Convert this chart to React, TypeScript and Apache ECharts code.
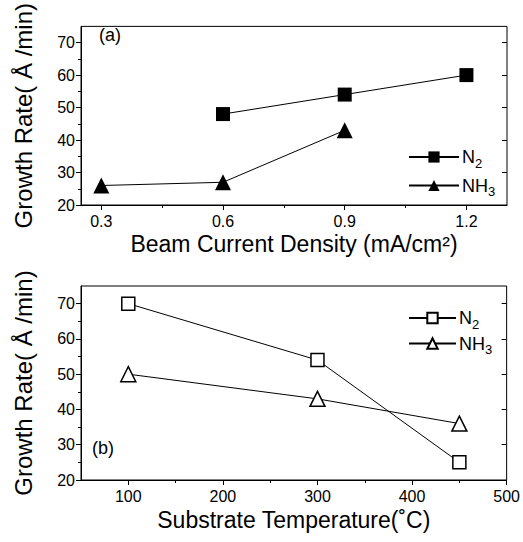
import React, { useEffect, useRef } from "react";
import * as echarts from "echarts";

const beamCurrent = [0.3, 0.6, 0.9, 1.2];
const beamN2 = [null, 48, 54, 60];
const beamNH3 = [26, 27, 43, null];
const beamTicks = [0.3, 0.6, 0.9, 1.2];
const beamMinor = [0.45, 0.75, 1.05];

const temperature = [100, 300, 450];
const tempN2 = [70, 54, 25];
const tempNH3 = [50, 43, 36];
const tempTicks = [100, 200, 300, 400, 500];
const tempMinor = [150, 250, 350, 450];

const rateTicks = [20, 30, 40, 50, 60, 70];
const rateMinor = [25, 35, 45, 55, 65];

const FONT = "Liberation Sans";

export default function App() {
  const ref = useRef<HTMLDivElement>(null);
  useEffect(() => {
    const chart = echarts.init(ref.current!, null, { renderer: "svg" });
    const pair = (xs: number[], ys: (number | null)[]) =>
      xs.map((x, i) => [x, ys[i]]).filter((p) => p[1] !== null);

    const yBase = (gi: number) => ({
      type: "value",
      gridIndex: gi,
      min: 20,
      max: 75,
      splitLine: { show: false },
      axisLine: { show: true, lineStyle: { color: "#000", width: 1 } },
      axisTick: { show: true, length: 5, inside: false, customValues: rateTicks, lineStyle: { color: "#000" } },
      axisLabel: { customValues: rateTicks, color: "#000", fontFamily: FONT, fontSize: 16, margin: 6 },
      name: "Growth Rate( Å /min)",
      nameLocation: "middle",
      nameGap: 46,
      nameTextStyle: { color: "#000", fontFamily: FONT, fontSize: 24 },
    });
    const yMinor = (gi: number) => ({
      type: "value",
      gridIndex: gi,
      min: 20,
      max: 75,
      position: "left",
      splitLine: { show: false },
      axisLine: { show: false },
      axisTick: { show: true, length: 3, customValues: rateMinor, lineStyle: { color: "#000" } },
      axisLabel: { show: false },
    });
    const yRight = (gi: number) => ({
      type: "value",
      gridIndex: gi,
      min: 20,
      max: 75,
      position: "right",
      splitLine: { show: false },
      axisLine: { show: false },
      axisTick: { show: true, inside: true, length: 5, customValues: rateTicks.slice(1), lineStyle: { color: "#000" } },
      axisLabel: { show: false },
    });

    const xMain = (gi: number, min: number, max: number, ticks: number[], name: string, fmt: (v: number) => string, gap: number) => ({
      type: "value",
      gridIndex: gi,
      min,
      max,
      splitLine: { show: false },
      axisLine: { show: true, lineStyle: { color: "#000", width: 1 } },
      axisTick: { show: true, length: 5, customValues: ticks, lineStyle: { color: "#000" } },
      axisLabel: { customValues: ticks, color: "#000", fontFamily: FONT, fontSize: 16, margin: 8, formatter: fmt },
      name,
      nameLocation: "middle",
      nameGap: gap,
      nameTextStyle: { color: "#000", fontFamily: FONT, fontSize: 23 },
    });
    const xMinor = (gi: number, min: number, max: number, ticks: number[]) => ({
      type: "value",
      gridIndex: gi,
      min,
      max,
      position: "bottom",
      splitLine: { show: false },
      axisLine: { show: false },
      axisTick: { show: true, length: 3, customValues: ticks, lineStyle: { color: "#000" } },
      axisLabel: { show: false },
    });

    const lineStyle = { color: "#000", width: 1 };
    const sub = (name: string) => (name.startsWith("NH3") ? "NH{s|3}" : "N{s|2}");
    const legendText = {
      color: "#000",
      fontFamily: FONT,
      fontSize: 18,
      padding: [0, 0, 0, -2],
      rich: { s: { fontSize: 13, fontFamily: FONT, color: "#000", padding: [12, 0, 0, 0] } },
    };

    chart.setOption({
      animation: false,
      backgroundColor: "#fff",
      grid: [
        { left: 81, top: 13, right: 16, height: 192, show: true, borderColor: "#000", borderWidth: 1, containLabel: false },
        { left: 81, top: 286, right: 16, height: 194, show: true, borderColor: "#000", borderWidth: 1, containLabel: false },
      ],
      xAxis: [
        xMain(0, 0.25, 1.3, beamTicks, "Beam Current Density (mA/cm²)", (v: number) => v.toFixed(1), 27),
        xMinor(0, 0.25, 1.3, beamMinor),
        xMain(1, 50, 500, tempTicks, "Substrate Temperature(˚C)", (v: number) => String(v), 28),
        xMinor(1, 50, 500, tempMinor),
      ],
      yAxis: [yBase(0), yMinor(0), yRight(0), yBase(1), yMinor(1), yRight(1)],
      legend: [
        {
          data: ["N2a", "NH3a"],
          orient: "vertical",
          left: 403,
          top: 143,
          itemWidth: 50,
          itemHeight: 14,
          itemGap: 7,
          formatter: sub,
          textStyle: legendText,
          inactiveColor: "#000",
        },
        {
          data: ["N2b", "NH3b"],
          orient: "vertical",
          left: 403,
          top: 304,
          itemWidth: 47,
          itemHeight: 13,
          itemGap: 4,
          formatter: sub,
          textStyle: legendText,
          inactiveColor: "#000",
        },
      ],
      graphic: [
        { type: "text", left: 99, top: 26, style: { text: "(a)", fontFamily: FONT, fontSize: 18, fill: "#000" } },
        { type: "text", left: 92, top: 439, style: { text: "(b)", fontFamily: FONT, fontSize: 18, fill: "#000" } },
      ],
      series: [
        {
          name: "N2a",
          type: "line",
          xAxisIndex: 0,
          yAxisIndex: 0,
          data: pair(beamCurrent, beamN2),
          symbol: "rect",
          symbolSize: 14,
          itemStyle: { color: "#000" },
          lineStyle,
        },
        {
          name: "NH3a",
          type: "line",
          xAxisIndex: 0,
          yAxisIndex: 0,
          data: pair(beamCurrent, beamNH3),
          symbol: "triangle",
          symbolSize: 16,
          itemStyle: { color: "#000" },
          lineStyle,
        },
        {
          name: "N2b",
          type: "line",
          xAxisIndex: 2,
          yAxisIndex: 3,
          data: pair(temperature, tempN2),
          symbol: "rect",
          symbolSize: 13,
          itemStyle: { color: "#fff", borderColor: "#000", borderWidth: 1.5 },
          lineStyle,
        },
        {
          name: "NH3b",
          type: "line",
          xAxisIndex: 2,
          yAxisIndex: 3,
          data: pair(temperature, tempNH3),
          symbol: "triangle",
          symbolSize: 15,
          itemStyle: { color: "#fff", borderColor: "#000", borderWidth: 1.5 },
          lineStyle,
        },
      ],
    });
    return () => chart.dispose();
  }, []);
  return <div ref={ref} style={{ position: "fixed", left: 0, top: 0, width: 523, height: 542 }} />;
}
